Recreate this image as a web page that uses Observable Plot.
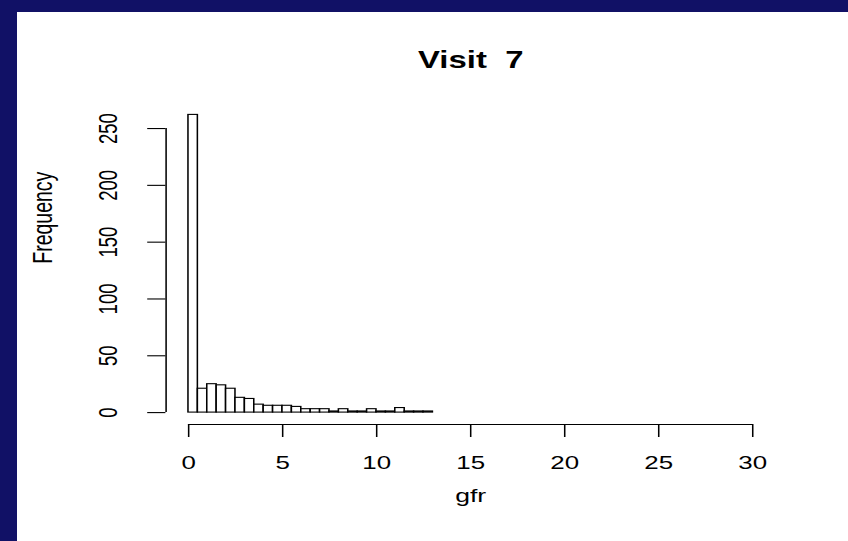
<!DOCTYPE html>
<html>
<head>
<meta charset="utf-8">
<script src="https://cdn.jsdelivr.net/npm/d3@7"></script>
<script src="https://cdn.jsdelivr.net/npm/@observablehq/plot@0.6"></script>
<style>
  html, body { margin: 0; padding: 0; width: 848px; height: 541px; overflow: hidden; background: #111166; }
  #panel { position: absolute; left: 17px; top: 12px; width: 831px; height: 529px; background: #ffffff; overflow: hidden; }
  svg { display: block; }
</style>
</head>
<body>
<div id="panel"></div>
<script>
// Histogram of gfr, Visit 7 (bin width 0.5)
const binStart = [0, 0.5, 1, 1.5, 2, 2.5, 3, 3.5, 4, 4.5, 5, 5.5, 6, 6.5, 7, 7.5, 8, 8.5, 9, 9.5, 10, 10.5, 11, 11.5, 12, 12.5];
const binEnd   = [0.5, 1, 1.5, 2, 2.5, 3, 3.5, 4, 4.5, 5, 5.5, 6, 6.5, 7, 7.5, 8, 8.5, 9, 9.5, 10, 10.5, 11, 11.5, 12, 12.5, 13];
const counts   = [262, 21, 25, 24, 21, 13, 12, 7, 6, 6, 6, 5, 3, 3, 3, 1, 3, 1, 1, 3, 1, 1, 4, 1, 1, 1];
const xTicks = [0, 5, 10, 15, 20, 25, 30];
const yTicks = [0, 50, 100, 150, 200, 250];
const titleText = "Visit  7";
const xLabel = "gfr";
const yLabel = "Frequency";

const bins = binStart.map((s, i) => ({x1: s, x2: binEnd[i], count: counts[i]}));

// R-style 4% axis extension
const xlo = d3.min(xTicks), xhi = d3.max(xTicks);
const ylo = 0, yhi = d3.max(counts);
const xDomain = [xlo - 0.04 * (xhi - xlo), xhi + 0.04 * (xhi - xlo)];
const yDomain = [ylo - 0.04 * (yhi - ylo), yhi + 0.04 * (yhi - ylo)];

// the original picture is stretched horizontally
const stretch = 1.4;
const outW = 831, outH = 529;
const W = outW / stretch;

const font = "Liberation Sans, Arial, Helvetica, sans-serif";

const chart = Plot.plot({
  width: W,
  height: outH,
  marginLeft: 148.4 / stretch,
  marginRight: 73.4 / stretch,
  marginTop: 90.5,
  marginBottom: 117,
  style: {background: "transparent", fontFamily: font, color: "#000", overflow: "visible"},
  x: {domain: xDomain},
  y: {domain: yDomain},
  marks: [
    Plot.rectY(bins, {x1: "x1", x2: "x2", y1: 0, y2: "count", fill: "white", stroke: "black", strokeWidth: 1.1}),
    Plot.axisX({ticks: xTicks, tickSize: 13, tickPadding: 18, fontSize: 18.5, tickFormat: d => String(d), stroke: "#000", strokeWidth: 1.1, label: null}),
    Plot.ruleY([yDomain[0]], {x1: xlo, x2: xhi, stroke: "#000", strokeWidth: 1.1}),
    Plot.axisY({ticks: yTicks, tickSize: 13, tickPadding: 22, fontSize: 18.5, tickRotate: -90, tickFormat: d => String(d), stroke: "#000", strokeWidth: 1.1, label: null}),
    Plot.ruleX([xDomain[0]], {y1: 0, y2: d3.max(yTicks), stroke: "#000", strokeWidth: 1.1}),
    Plot.text([titleText], {frameAnchor: "top", dy: -52, fontSize: 23.5, fontWeight: "bold", fill: "#000"}),
    Plot.text([xLabel], {frameAnchor: "bottom", dy: 77, fontSize: 19, fill: "#000"}),
    Plot.text([yLabel], {frameAnchor: "left", dx: (43 - 165.4) / stretch, rotate: -90, fontSize: 19.5, fill: "#000"})
  ]
});
chart.setAttribute("width", outW);
chart.setAttribute("height", outH);
chart.setAttribute("preserveAspectRatio", "none");
chart.style.width = outW + "px";
chart.style.height = outH + "px";
chart.style.maxWidth = "none";
document.getElementById("panel").appendChild(chart);
</script>
</body>
</html>
